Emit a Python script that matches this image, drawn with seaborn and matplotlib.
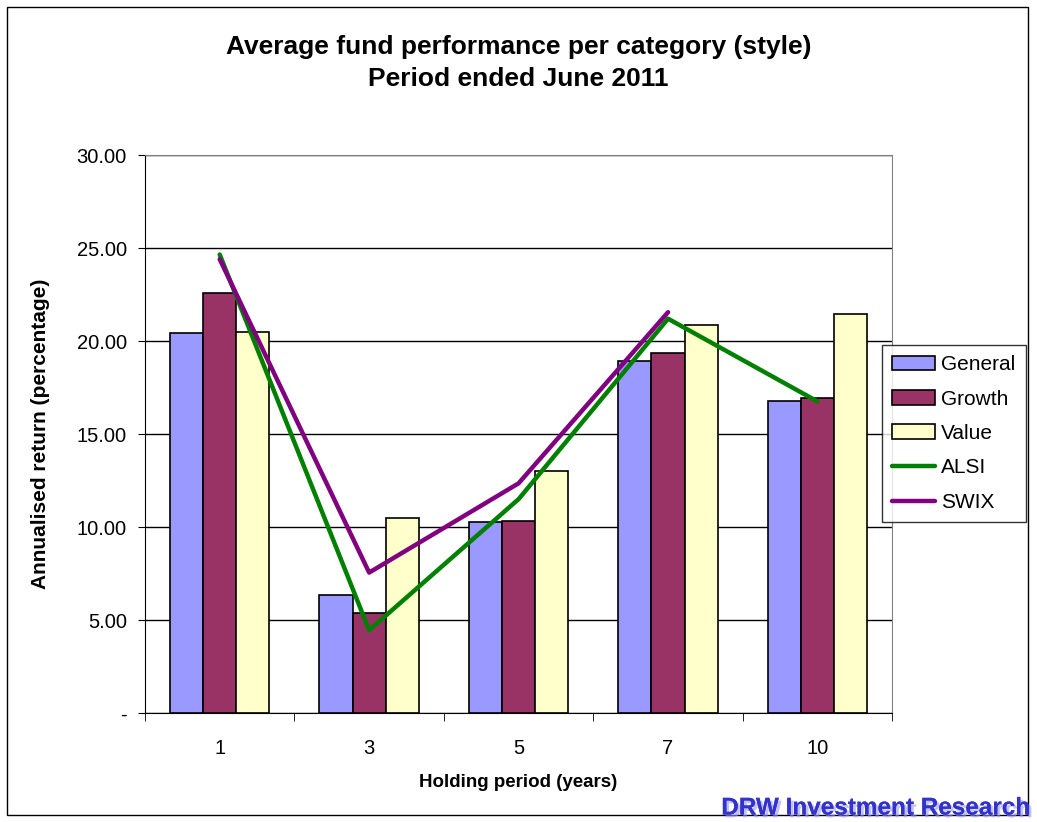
import matplotlib.pyplot as plt
import matplotlib.patheffects as pe
from matplotlib.patches import Rectangle
import numpy as np
import pandas as pd
import seaborn as sns

# holding periods and annualised returns
periods = ['1', '3', '5', '7', '10']
general = [20.43, 6.34, 10.25, 18.9, 16.77]
growth = [22.6, 5.38, 10.3, 19.35, 16.95]
value = [20.5, 10.5, 13.0, 20.85, 21.45]
alsi = [24.65, 4.45, 11.5, 21.2, 16.75]
swix = [24.4, 7.55, 12.35, 21.55]

sns.set_style('white')
plt.rcParams['font.family'] = ['Liberation Sans', 'DejaVu Sans']
plt.rcParams['text.color'] = 'black'
plt.rcParams['axes.labelcolor'] = 'black'
plt.rcParams['xtick.color'] = 'black'
plt.rcParams['ytick.color'] = 'black'

df = pd.DataFrame({
    'period': periods * 3,
    'ret': general + growth + value,
    'style': ['General'] * 5 + ['Growth'] * 5 + ['Value'] * 5,
})

fig = plt.figure(figsize=(10.37, 8.22), dpi=100)
ax = fig.add_axes([0.1398, 0.1326, 0.7206, 0.6788])

pal = {'General': '#9999FF', 'Growth': '#993366', 'Value': '#FFFFCC'}
sns.barplot(data=df, x='period', y='ret', hue='style', order=periods,
            palette=pal, width=0.665, edgecolor='black', linewidth=1.2,
            saturation=1, ax=ax, legend=True)

xs = np.arange(len(periods))
ax.plot(xs, alsi, color='#008000', lw=3.2, label='ALSI', solid_capstyle='round')
ax.plot(xs[:len(swix)], swix, color='#800080', lw=3.2, label='SWIX', solid_capstyle='round')

ax.set_xlim(-0.5, len(periods) - 0.5)
ax.set_ylim(0, 30)
ax.set_yticks(np.arange(0, 31, 5))
ax.set_yticklabels(['-'] + ['%.2f' % v for v in np.arange(5, 31, 5)])
ax.yaxis.grid(True, color='black', lw=1)
ax.set_axisbelow(True)
for s in ['top', 'right']:
    ax.spines[s].set_color('#808080')
for s in ['left', 'bottom']:
    ax.spines[s].set_color('black')
ax.tick_params(axis='y', left=True, length=5, labelsize=14.5, pad=8)
ax.tick_params(axis='x', bottom=False, labelsize=14.5, pad=15)
ax.set_xticks(np.arange(-0.5, len(periods), 1), minor=True)
ax.tick_params(axis='x', which='minor', bottom=True, length=6)

ax.set_xlabel('Holding period (years)', fontsize=13.5, fontweight='bold', labelpad=12)
ax.set_ylabel('Annualised return (percentage)', fontsize=15, fontweight='bold', labelpad=19)

fig.suptitle('Average fund performance per category (style)\nPeriod ended June 2011',
             fontsize=19, fontweight='bold', y=0.958, linespacing=1.45)

leg = ax.legend(loc='upper left', bbox_to_anchor=(0.986, 0.66), fontsize=15,
                frameon=True, fancybox=False, edgecolor='black',
                handlelength=2.05, handleheight=0.7, labelspacing=0.74,
                borderpad=0.5, handletextpad=0.3, borderaxespad=0)
leg.get_frame().set_linewidth(1)

# outer chart border
fig.patches.append(Rectangle((0.007, 0.009), 0.984, 0.983, transform=fig.transFigure,
                             fill=False, edgecolor='black', lw=1))

fig.text(0.993, 0.003, 'DRW Investment Research', ha='right', va='bottom',
         fontsize=17.5, fontweight='bold', color='#3333CC',
         path_effects=[pe.withSimplePatchShadow(offset=(2, -2), shadow_rgbFace='#9999FF', alpha=0.6),
                       pe.Normal()])

fig.savefig('out.png', dpi=100)
